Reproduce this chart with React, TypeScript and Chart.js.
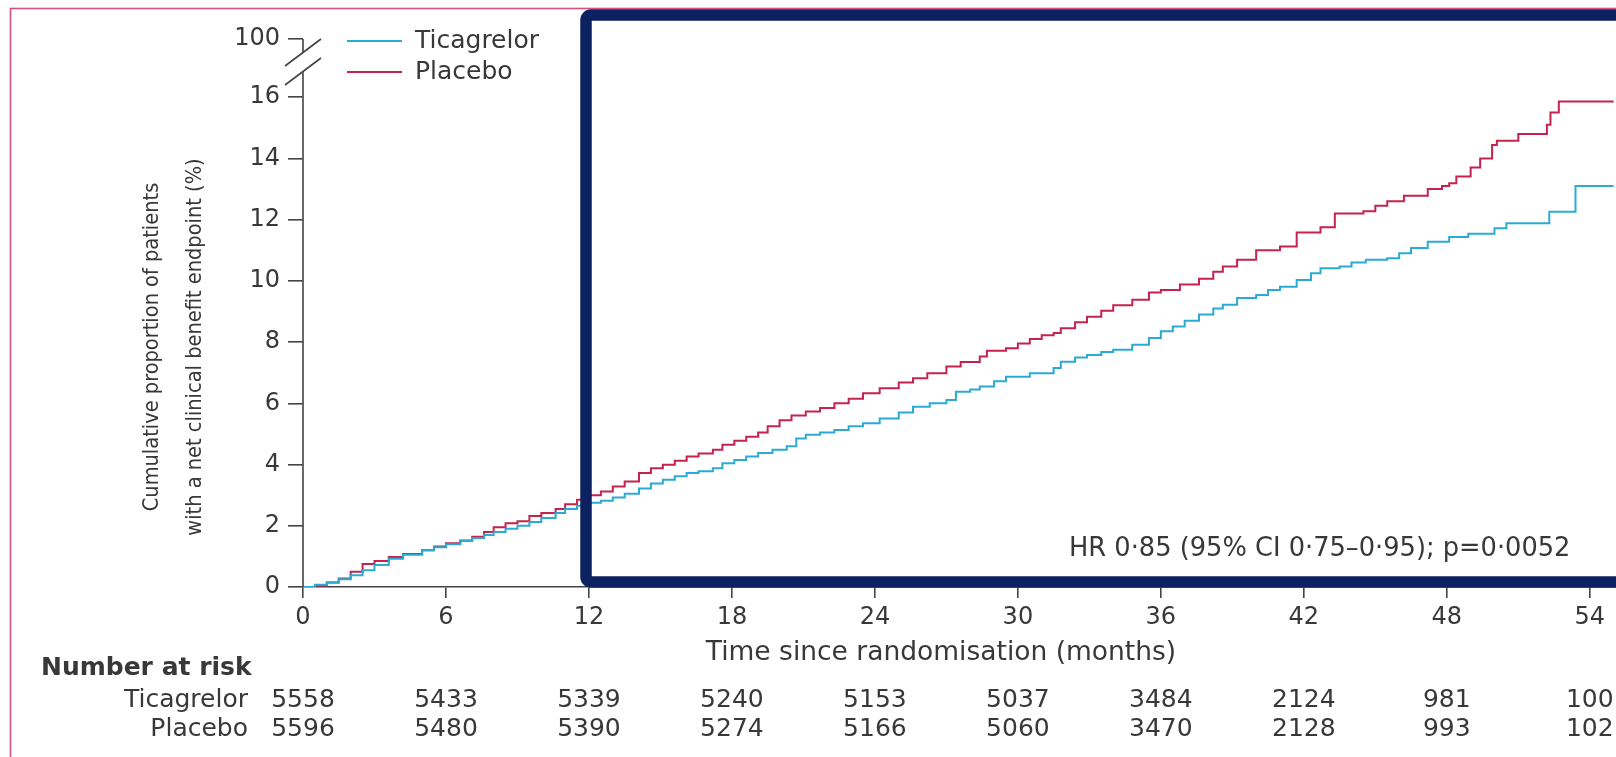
import React, { useEffect, useRef } from 'react';
import { Chart, registerables } from 'chart.js';

Chart.register(...registerables);

// ---------- data ----------
const ticagrelorTimes = [
  0, 0.5, 1.0, 1.5, 2.0, 2.5, 3.0, 3.6, 4.2, 5.0, 5.5, 6.0, 6.6, 7.1, 7.6, 8.0, 8.5, 9.0, 9.5, 10.0,
  10.6, 11.0, 11.5, 12.0, 12.5, 13.0, 13.5, 14.1, 14.6, 15.1, 15.6, 16.1, 16.6, 17.2, 17.6, 18.1, 18.6,
  19.1, 19.7, 20.3, 20.7, 21.1, 21.7, 22.3, 22.9, 23.5, 24.2, 25.0, 25.6, 26.3, 27.0, 27.4, 28.0, 28.4,
  29.0, 29.5, 30.5, 31.5, 31.8, 32.4, 32.9, 33.5, 34.0, 34.8, 35.5, 36.0, 36.5, 37.0, 37.6, 38.2, 38.6,
  39.2, 40.0, 40.5, 41.0, 41.7, 42.3, 42.7, 43.5, 44.0, 44.6, 45.5, 46.0, 46.5, 47.2, 48.1, 48.9, 50.0,
  50.5, 52.3, 53.4, 55.0,
];
const ticagrelorValues = [
  0, 0.07, 0.15, 0.25, 0.38, 0.55, 0.72, 0.92, 1.05, 1.2, 1.3, 1.4, 1.5, 1.6, 1.7, 1.8, 1.9, 2.0, 2.12, 2.25,
  2.42, 2.55, 2.65, 2.75, 2.82, 2.92, 3.05, 3.22, 3.38, 3.5, 3.62, 3.72, 3.78, 3.88, 4.04, 4.15, 4.26,
  4.38, 4.48, 4.6, 4.85, 4.97, 5.05, 5.13, 5.25, 5.35, 5.5, 5.7, 5.89, 6.0, 6.11, 6.38, 6.45, 6.55,
  6.72, 6.87, 6.98, 7.15, 7.36, 7.5, 7.58, 7.68, 7.75, 7.91, 8.13, 8.35, 8.51, 8.7, 8.9, 9.1, 9.22,
  9.44, 9.54, 9.7, 9.81, 10.03, 10.25, 10.41, 10.47, 10.6, 10.69, 10.74, 10.9, 11.07, 11.28, 11.43, 11.54, 11.72,
  11.88, 12.26, 13.1, 13.1,
];
const placeboTimes = [
  0, 0.5, 1.0, 1.5, 2.0, 2.5, 3.0, 3.6, 4.2, 5.0, 5.5, 6.0, 6.6, 7.1, 7.6, 8.0, 8.5, 9.0, 9.5, 10.0,
  10.6, 11.0, 11.5, 12.0, 12.5, 13.0, 13.5, 14.1, 14.6, 15.1, 15.6, 16.1, 16.6, 17.2, 17.6, 18.1, 18.6,
  19.1, 19.5, 20.0, 20.5, 21.1, 21.7, 22.3, 22.9, 23.5, 24.2, 25.0, 25.6, 26.2, 27.0, 27.6, 28.4, 28.7,
  29.5, 30.0, 30.5, 31.0, 31.5, 31.8, 32.4, 32.9, 33.5, 34.0, 34.8, 35.5, 36.0, 36.8, 37.6, 38.2, 38.6,
  39.2, 40.0, 41.0, 41.7, 42.7, 43.3, 44.5, 45.0, 45.5, 46.2, 47.2, 47.8, 48.1, 48.4, 49.0, 49.4, 49.9,
  50.1, 51.0, 52.2, 52.35, 52.7, 55.0,
];
const placeboValues = [
  0, 0.05, 0.15, 0.28, 0.5, 0.75, 0.85, 0.98, 1.08, 1.2, 1.32, 1.43, 1.52, 1.64, 1.8, 1.95, 2.08, 2.15, 2.32, 2.42,
  2.55, 2.7, 2.85, 3.0, 3.12, 3.28, 3.45, 3.72, 3.88, 3.99, 4.12, 4.26, 4.36, 4.48, 4.65, 4.78, 4.91,
  5.05, 5.25, 5.45, 5.6, 5.73, 5.85, 6.0, 6.15, 6.33, 6.49, 6.68, 6.82, 6.98, 7.2, 7.35, 7.53, 7.72,
  7.8, 7.95, 8.1, 8.22, 8.3, 8.45, 8.65, 8.83, 9.02, 9.2, 9.38, 9.62, 9.7, 9.88, 10.07, 10.3, 10.47,
  10.69, 11.0, 11.12, 11.58, 11.75, 12.2, 12.27, 12.45, 12.6, 12.78, 13.0, 13.1, 13.19, 13.41, 13.7, 14.0, 14.44,
  14.58, 14.8, 15.1, 15.5, 15.86, 15.86,
];

const xTickValues = [0, 6, 12, 18, 24, 30, 36, 42, 48, 54];
const yTickValues = [0, 2, 4, 6, 8, 10, 12, 14, 16, 17.9];
const yTickLabels = ['0', '2', '4', '6', '8', '10', '12', '14', '16', '100'];
const seriesNames = ['Ticagrelor', 'Placebo'];
const riskTicagrelor = [5558, 5433, 5339, 5240, 5153, 5037, 3484, 2124, 981, 100];
const riskPlacebo = [5596, 5480, 5390, 5274, 5166, 5060, 3470, 2128, 993, 102];

const yTitleLines = ['Cumulative proportion of patients', 'with a net clinical benefit endpoint (%)'];
const xTitle = 'Time since randomisation (months)';
const hrText = 'HR 0·85 (95% CI 0·75–0·95); p=0·0052';

// ---------- style ----------
const CYAN = '#2aaad4';
const RED = '#c5234d';
const NAVY = '#0b2160';
const PINK = '#d4527a';
const TEXT = '#383838';
const AXIS = '#444444';
const FONT = '"DejaVu Sans", "Noto Sans", sans-serif';
const COND = '"DejaVu Sans Condensed", "DejaVu Sans", "Liberation Sans Narrow", sans-serif';

const decor = {
  id: 'decor',
  beforeDraw(chart: any) {
    const ctx = chart.ctx;
    ctx.save();
    ctx.fillStyle = '#ffffff';
    ctx.fillRect(0, 0, chart.width, chart.height);
    ctx.strokeStyle = PINK;
    ctx.lineWidth = 1.6;
    ctx.strokeRect(10.5, 8.5, chart.width + 100, chart.height + 100);
    ctx.restore();
  },
  afterDraw(chart: any) {
    const ctx = chart.ctx;
    const xs = chart.scales.x;
    const ys = chart.scales.y;
    const ax = chart.chartArea.left;
    const yTop = ys.getPixelForValue(yTickValues[yTickValues.length - 1]);
    const yZero = ys.getPixelForValue(0);
    ctx.save();

    // y axis with break
    ctx.strokeStyle = AXIS;
    ctx.lineWidth = 1.6;
    ctx.beginPath();
    ctx.moveTo(ax, yTop);
    ctx.lineTo(ax, yTop + 13.5);
    ctx.moveTo(ax, yTop + 32.5);
    ctx.lineTo(ax, yZero);
    ctx.moveTo(ax - 18, yTop + 27);
    ctx.lineTo(ax + 18, yTop);
    ctx.moveTo(ax - 18, yTop + 46);
    ctx.lineTo(ax + 18, yTop + 19);
    ctx.stroke();

    // legend
    const legendColors = [CYAN, RED];
    const legendY = [41, 72];
    ctx.font = '25px ' + FONT;
    ctx.textBaseline = 'middle';
    ctx.textAlign = 'left';
    seriesNames.forEach((n, i) => {
      ctx.strokeStyle = legendColors[i];
      ctx.lineWidth = 2;
      ctx.beginPath();
      ctx.moveTo(347, legendY[i]);
      ctx.lineTo(402, legendY[i]);
      ctx.stroke();
      ctx.fillStyle = TEXT;
      ctx.fillText(n, 415, legendY[i]);
    });

    // y title (condensed face, sized so the longer line spans ~378px)
    ctx.save();
    ctx.translate(0, 347);
    ctx.rotate(-Math.PI / 2);
    ctx.font = 'condensed 24px ' + COND;
    const w = ctx.measureText(yTitleLines[1]).width;
    const size = Math.max(18, Math.min(26, 24 * 378 / (w || 378)));
    ctx.font = 'condensed ' + size.toFixed(1) + 'px ' + COND;
    ctx.textAlign = 'center';
    ctx.textBaseline = 'middle';
    ctx.fillStyle = TEXT;
    ctx.fillText(yTitleLines[0], 0, 152);
    ctx.fillText(yTitleLines[1], 0, 195);
    ctx.restore();

    // x title
    ctx.font = '26.5px ' + FONT;
    ctx.textAlign = 'center';
    ctx.textBaseline = 'middle';
    ctx.fillStyle = TEXT;
    ctx.fillText(xTitle, 941, 653);

    // HR text
    ctx.font = '25.7px ' + FONT;
    ctx.textAlign = 'left';
    ctx.fillText(hrText, 1069, 549);

    // number at risk
    ctx.font = 'bold 25px ' + FONT;
    ctx.fillText('Number at risk', 41, 668);
    ctx.font = '25px ' + FONT;
    const rows = [riskTicagrelor, riskPlacebo];
    const rowY = [700, 729];
    rows.forEach((r, i) => {
      ctx.textAlign = 'right';
      ctx.fillText(seriesNames[i], 248, rowY[i]);
      ctx.textAlign = 'center';
      r.forEach((v, j) => {
        ctx.fillText(String(v), xs.getPixelForValue(xTickValues[j]), rowY[i]);
      });
    });

    // navy highlight box
    ctx.strokeStyle = NAVY;
    ctx.lineWidth = 11.5;
    ctx.beginPath();
    (ctx as any).roundRect(586, 15, 1200, 567, 5);
    ctx.stroke();

    ctx.restore();
  },
};

export default function App() {
  const ref = useRef<HTMLCanvasElement | null>(null);
  useEffect(() => {
    document.body.style.margin = '0';
    document.body.style.overflow = 'hidden';
    if (!ref.current) return;
    const chart = new Chart(ref.current, {
      type: 'line',
      data: {
        datasets: [
          {
            label: seriesNames[0],
            data: ticagrelorTimes.map((t, i) => ({ x: t, y: ticagrelorValues[i] })),
            borderColor: CYAN,
            borderWidth: 2,
            pointRadius: 0,
            stepped: true,
            fill: false,
          },
          {
            label: seriesNames[1],
            data: placeboTimes.map((t, i) => ({ x: t, y: placeboValues[i] })),
            borderColor: RED,
            borderWidth: 2,
            pointRadius: 0,
            stepped: true,
            fill: false,
          },
        ],
      },
      plugins: [decor],
      options: {
        animation: false,
        responsive: false,
        devicePixelRatio: 1,
        layout: { padding: { left: 0, top: 39, right: 0, bottom: 0 } },
        plugins: { legend: { display: false }, tooltip: { enabled: false } },
        scales: {
          x: {
            type: 'linear',
            min: 0,
            max: 55.1,
            afterBuildTicks: (s: any) => {
              s.ticks = xTickValues.map((v) => ({ value: v }));
            },
            afterFit: (s: any) => {
              s.height = 170;
            },
            border: { display: true, color: AXIS, width: 1.6 },
            grid: { drawOnChartArea: false, drawTicks: true, tickLength: 11, color: AXIS, lineWidth: 1.6 },
            ticks: { font: { family: FONT, size: 24 }, color: TEXT, padding: 5, maxRotation: 0, autoSkip: false },
          },
          y: {
            type: 'linear',
            min: 0,
            max: 17.9,
            afterBuildTicks: (s: any) => {
              s.ticks = yTickValues.map((v) => ({ value: v }));
            },
            afterFit: (s: any) => {
              s.width = 303;
            },
            border: { display: false },
            grid: { drawOnChartArea: false, drawTicks: true, tickLength: 15, color: AXIS, lineWidth: 1.6 },
            ticks: {
              font: { family: FONT, size: 24 },
              color: TEXT,
              padding: 8,
              autoSkip: false,
              callback: (v: any) => {
                const i = yTickValues.indexOf(Number(v));
                return i >= 0 ? yTickLabels[i] : '';
              },
            },
          },
        },
      },
    } as any);
    return () => chart.destroy();
  }, []);
  return (
    <div style={{ width: 1616, height: 757 }}>
      <canvas ref={ref} width={1616} height={757} style={{ display: 'block' }} />
    </div>
  );
}
